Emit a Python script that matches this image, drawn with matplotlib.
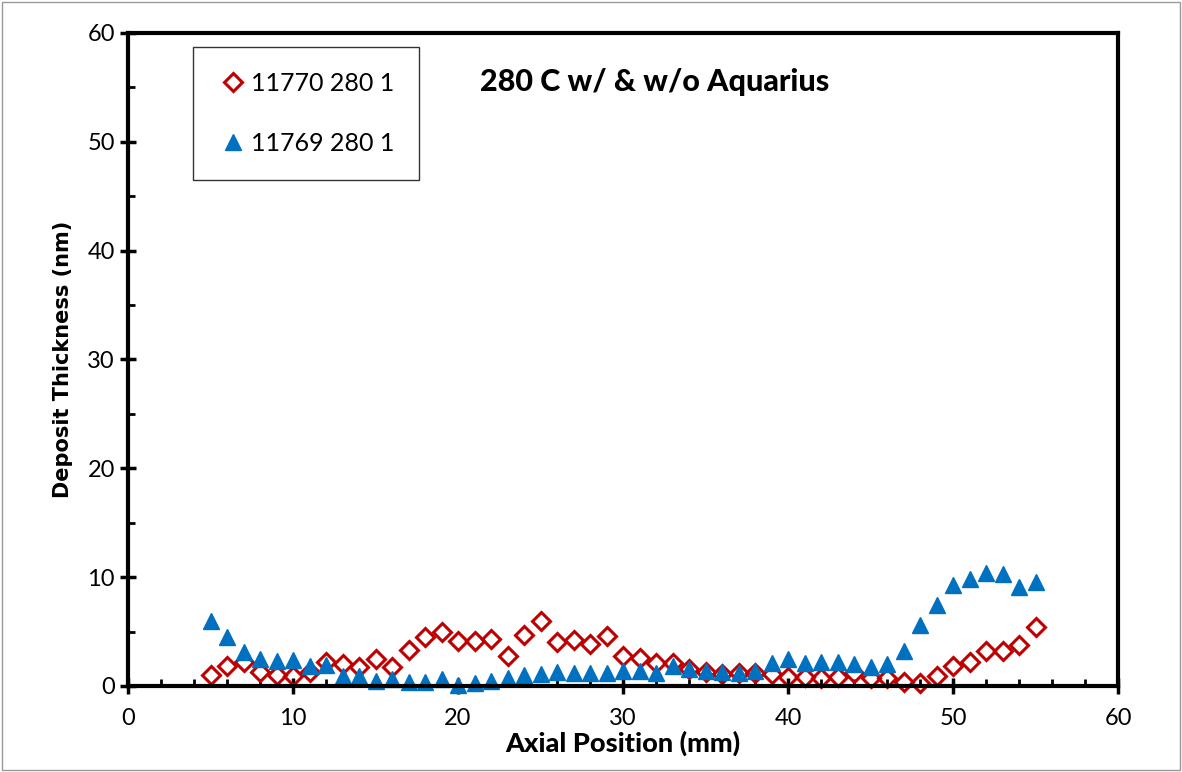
import matplotlib.pyplot as plt
from matplotlib.patches import Rectangle
from matplotlib.ticker import MultipleLocator

plt.rcParams['font.family'] = ['Lato', 'DejaVu Sans']

axial_mm = list(range(5, 56))
run_11770 = [1.0, 1.8, 2.2, 1.3, 1.0, 0.9, 1.3, 2.2, 2.0, 1.7,
             2.5, 1.7, 3.3, 4.5, 5.0, 4.1, 4.1, 4.3, 2.8, 4.7,
             6.0, 4.0, 4.2, 3.9, 4.6, 2.8, 2.6, 2.1, 2.1, 1.6,
             1.3, 1.1, 1.2, 1.2, 1.1, 0.8, 0.8, 0.7, 0.8, 1.2,
             0.7, 0.7, 0.4, 0.3, 0.9, 1.8, 2.2, 3.2, 3.2, 3.8, 5.4]
run_11769 = [6.0, 4.5, 3.1, 2.5, 2.3, 2.4, 1.8, 1.9, 0.9, 0.9,
             0.5, 0.6, 0.4, 0.4, 0.6, 0.1, 0.3, 0.5, 0.7, 1.0,
             1.1, 1.3, 1.2, 1.2, 1.2, 1.4, 1.4, 1.2, 1.8, 1.6,
             1.4, 1.3, 1.2, 1.4, 2.1, 2.5, 2.1, 2.2, 2.2, 2.0,
             1.7, 2.0, 3.2, 5.6, 7.4, 9.3, 9.8, 10.4, 10.3, 9.1, 9.6]

fig = plt.figure(figsize=(11.82, 7.72), dpi=100)
ax = fig.add_axes([0.1083, 0.1114, 0.8376, 0.8459])

ax.plot(axial_mm, run_11770, linestyle='none', marker='D', markersize=9,
        markerfacecolor='none', markeredgecolor='#C00000', markeredgewidth=2.2,
        label='11770 280 1', clip_on=False)
ax.plot(axial_mm, run_11769, linestyle='none', marker='^', markersize=12,
        color='#0070C0', label='11769 280 1', clip_on=False)

ax.set_xlim(0, 60)
ax.set_ylim(0, 60)
ax.xaxis.set_major_locator(MultipleLocator(10))
ax.xaxis.set_minor_locator(MultipleLocator(2))
ax.yaxis.set_major_locator(MultipleLocator(10))
ax.yaxis.set_minor_locator(MultipleLocator(5))
ax.tick_params(which='major', direction='inout', length=12, width=2.5, labelsize=17)
ax.tick_params(axis='x', which='major', pad=10)
ax.tick_params(which='minor', direction='in', length=5, width=2)
for s in ax.spines.values():
    s.set_linewidth(3)

ax.set_xlabel('Axial Position (mm)', fontsize=19.5, fontweight='black', labelpad=1)
ax.set_ylabel('Deposit Thickness (nm)', fontsize=15, fontweight='bold', labelpad=10,
              family='DejaVu Sans')

ax.text(0.532, 0.925, '280 C w/ & w/o Aquarius', transform=ax.transAxes,
        ha='center', va='center', fontsize=22, fontweight='black')

leg = ax.legend(loc='upper left', bbox_to_anchor=(0.066, 0.979), fontsize=18,
                frameon=True, fancybox=False, edgecolor='black', borderpad=1.0,
                borderaxespad=0, labelspacing=1.5, handletextpad=0.1,
                handlelength=1.2, markerscale=1.0)
leg.get_frame().set_linewidth(1)

fig.patches.append(Rectangle((0.002, 0.002), 0.996, 0.996, transform=fig.transFigure,
                             fill=False, edgecolor='#999999', linewidth=1))

fig.savefig('out.png', dpi=100)
